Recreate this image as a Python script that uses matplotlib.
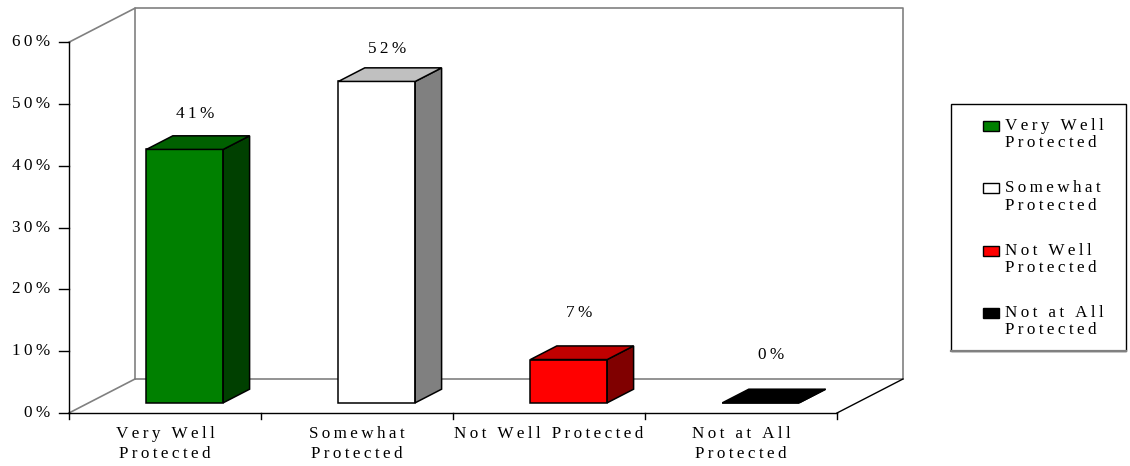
import matplotlib
matplotlib.use("Agg")
import matplotlib.pyplot as plt
from matplotlib.patches import Polygon, Rectangle

# ---- data -------------------------------------------------------------
categories = ["Very Well\nProtected", "Somewhat\nProtected",
              "Not Well Protected", "Not at All\nProtected"]
legend_labels = ["Very Well\nProtected", "Somewhat\nProtected",
                 "Not Well\nProtected", "Not at All\nProtected"]
values = [41, 52, 7, 0]
y_ticks = [0, 10, 20, 30, 40, 50, 60]

# face / top / side colours of each 3-D column
front_colors = ["#008000", "#FFFFFF", "#FF0000", "#000000"]
top_colors = ["#006000", "#C0C0C0", "#C00000", "#000000"]
side_colors = ["#004000", "#808080", "#800000", "#000000"]

FONT = "Liberation Serif"
FS = 12.3
SP = "\u2009"  # letter spacing


def spaced(s):
    return "\n".join(SP.join(line) for line in s.split("\n"))


W, H, DPI = 11.3, 4.66, 100
fig = plt.figure(figsize=(W, H), dpi=DPI)
ax = fig.add_axes([0, 0, 1, 1])
ax.set_axis_off()

# data units: x in categories, y in percent
x_per_px = 1 / 192.0
y_per_px = 1 / 6.18
ax.set_xlim(-69 * x_per_px, (1130 - 69) * x_per_px)
ax.set_ylim(-(466 - 413) * y_per_px, 413 * y_per_px)

n = len(values)
ymax = y_ticks[-1]
DX = 66 * x_per_px      # depth offset of the back wall
DY = 34 * y_per_px
bar_w = 0.4
d0, d1 = 0.3, 0.7       # column depth span (fraction of floor depth)

gray = "#808080"
# back wall and floor outline
ax.plot([DX, DX, n + DX, n + DX, DX], [DY, ymax + DY, ymax + DY, DY, DY],
        color=gray, lw=1.2, zorder=1)
ax.plot([0, DX], [ymax, ymax + DY], color=gray, lw=1.2, zorder=1)
ax.plot([0, DX], [0, DY], color=gray, lw=1.2, zorder=1)
ax.plot([n, n + DX], [0, DY], color="black", lw=1.0, zorder=1)

# front axes
ax.plot([0, 0], [0, ymax], color="black", lw=1.0, zorder=5)
ax.plot([0, n], [0, 0], color="black", lw=1.0, zorder=5)
for t in y_ticks:
    ax.plot([-10 * x_per_px, 0], [t, t], color="black", lw=1.0, zorder=5)
    ax.text(-19 * x_per_px, t, spaced(f"{t}%"), ha="right", va="center",
            family=FONT, fontsize=FS)
for i in range(n + 1):
    ax.plot([i, i], [0, -6 * y_per_px], color="black", lw=1.0, zorder=5)
for i, c in enumerate(categories):
    ax.text(i + 0.5, -13 * y_per_px, spaced(c), ha="center", va="top",
            family=FONT, fontsize=FS, linespacing=1.3)

# 3-D columns
ddx = (d1 - d0) * DX
ddy = (d1 - d0) * DY
for i, v in enumerate(values):
    x0 = i + 0.5 - bar_w / 2 + d0 * DX
    y0 = d0 * DY
    ec = "black"
    front = Rectangle((x0, y0), bar_w, v, facecolor=front_colors[i],
                      edgecolor=ec, lw=1.1, zorder=3)
    top = Polygon([(x0, y0 + v), (x0 + bar_w, y0 + v),
                   (x0 + bar_w + ddx, y0 + v + ddy), (x0 + ddx, y0 + v + ddy)],
                  closed=True, facecolor=top_colors[i], edgecolor=ec,
                  lw=1.1, zorder=3)
    side = Polygon([(x0 + bar_w, y0), (x0 + bar_w + ddx, y0 + ddy),
                    (x0 + bar_w + ddx, y0 + v + ddy), (x0 + bar_w, y0 + v)],
                   closed=True, facecolor=side_colors[i], edgecolor=ec,
                   lw=1.1, zorder=3)
    for p in (front, side, top):
        ax.add_patch(p)
    off = 7.8 - 0.05 * v
    ax.text(i + 0.5 + 0.45 * DX, y0 + v + off, spaced(f"{v}%"),
            ha="center", va="center", family=FONT, fontsize=FS)

# legend panel (pixel layout)
lax = fig.add_axes([0, 0, 1, 1])
lax.set_axis_off()
lax.set_xlim(0, 1130)
lax.set_ylim(466, 0)
lax.add_patch(Rectangle((951, 104), 175, 247, facecolor="white",
                        edgecolor="black", lw=1.0))
lax.plot([951, 1126], [351, 351], color=gray, lw=1.6)
for k, lab in enumerate(legend_labels):
    yc = 126 + k * 62.3
    lax.add_patch(Rectangle((983, yc - 5), 16, 10, facecolor=front_colors[k],
                            edgecolor="black", lw=1.0))
    lax.text(1005, yc - 8, spaced(lab), ha="left", va="top", family=FONT,
             fontsize=FS, linespacing=1.1)

fig.savefig("out.png", dpi=DPI)
